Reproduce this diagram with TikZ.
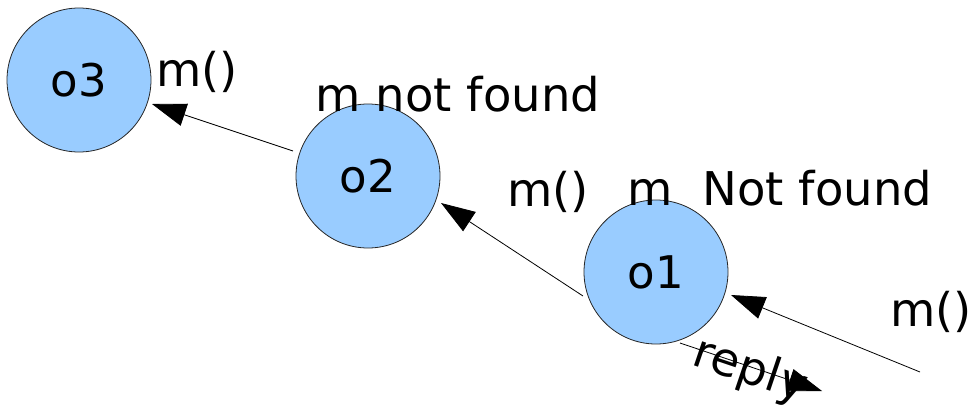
\documentclass[tikz,border=0pt]{standalone}
\usepackage{fontspec}
\setmainfont{DejaVu Sans}
\usetikzlibrary{arrows.meta}
\definecolor{objfill}{HTML}{99CCFF}
\tikzset{
  obj/.style={circle, draw=black!85, line width=0.8pt, fill=objfill, minimum size=144pt, inner sep=0pt, font=\fontsize{45}{52}\selectfont},
  msg/.style={line width=0.8pt, -{Triangle[length=34pt, width=23pt]}},
  lbl/.style={anchor=base, inner sep=0pt, font=\fontsize{46.5}{54}\selectfont}
}
\begin{document}
\begin{tikzpicture}[x=1pt, y=-1pt]
  \useasboundingbox (0,0) rectangle (971,404);
  % objects
  \node[obj] (o3) at (79,80) {o3};
  \node[obj] (o2) at (368,176) {o2};
  \node[obj] (o1) at (656,272) {o1};
  % message end points
  \coordinate (a1) at (293,151);
  \coordinate (b1) at (152,104);
  \coordinate (a2) at (583,296);
  \coordinate (b2) at (441,203);
  \coordinate (a3) at (920,372);
  \coordinate (b3) at (731,295);
  \coordinate (r1) at (680,343);
  \coordinate (r2) at (822,391);
  % messages
  \draw[msg] (a1) -- (b1);
  \draw[msg] (a2) -- (b2);
  \draw[msg] (a3) -- (b3);
  \draw[msg] (r1) -- (r2);
  % labels
  \node[lbl] (l1) at (197,86) {m()};
  \node[lbl] (l2) at (458,111) {m not found};
  \node[lbl] (l3) at (548,206) {m()};
  \node[lbl] (l4) at (780,205) {m\ \ Not found};
  \node[lbl] (l5) at (931,326) {m()};
  \node[inner sep=0pt, rotate=-18.7, font=\fontsize{46.5}{54}\selectfont] (l6) at (750,371) {reply};
\end{tikzpicture}
\end{document}
